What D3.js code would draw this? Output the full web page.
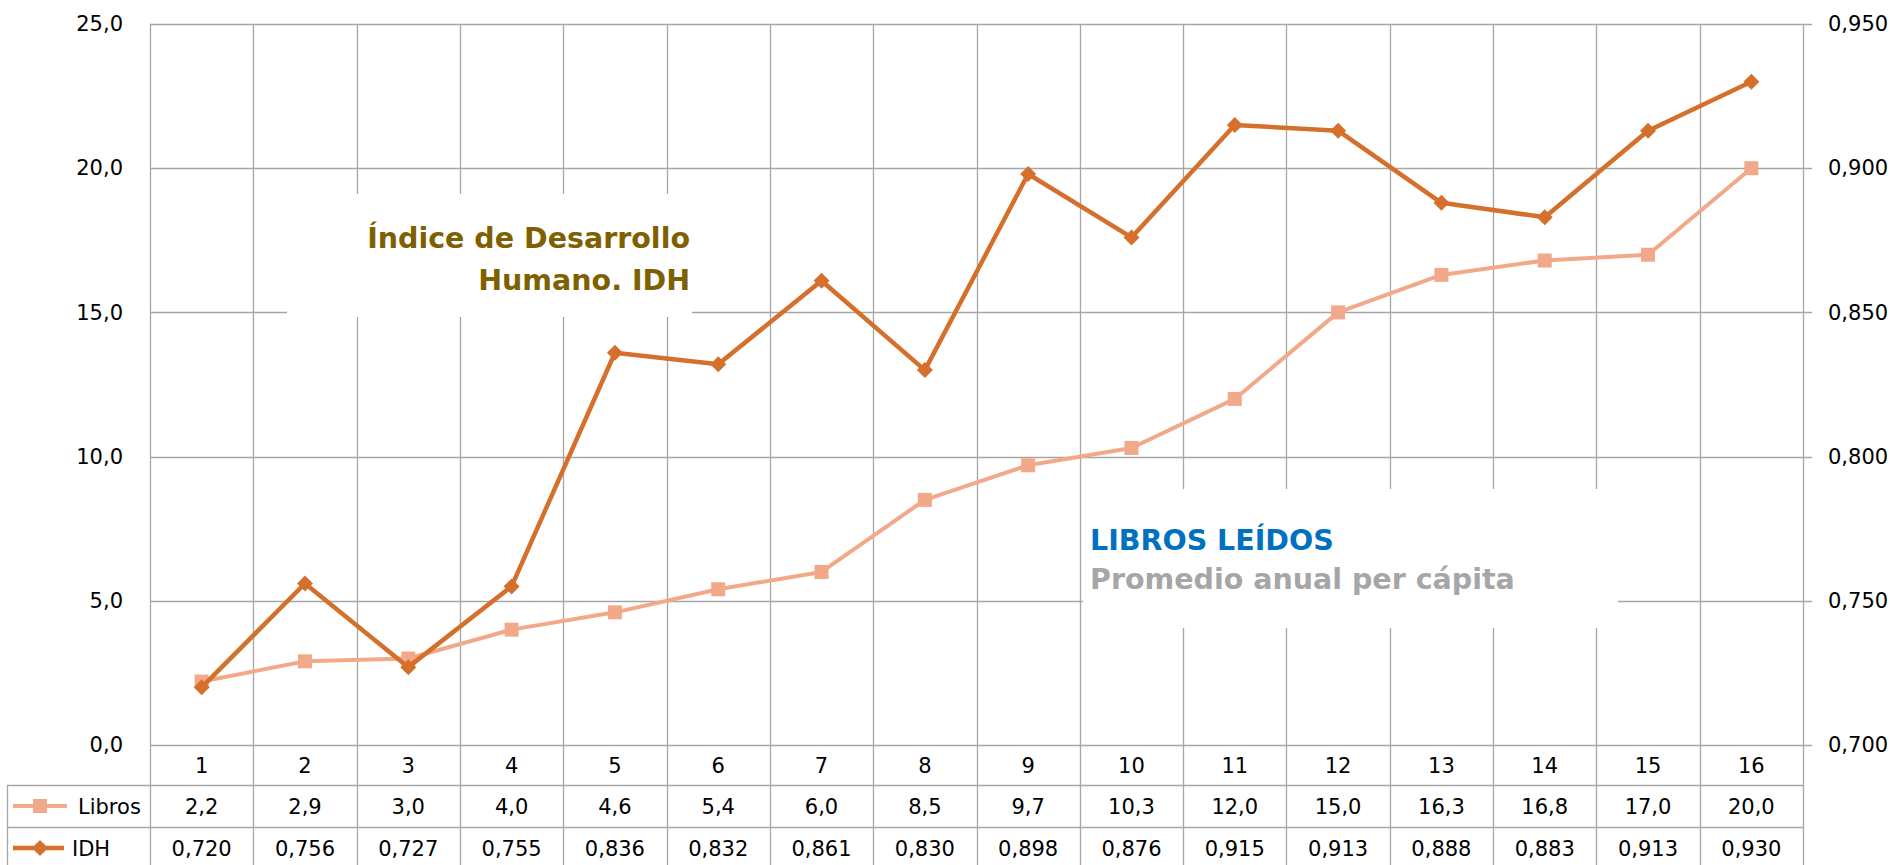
<!DOCTYPE html>
<html>
<head>
<meta charset="utf-8">
<script src="https://cdn.jsdelivr.net/npm/d3@7"></script>
<style>
  html, body { margin: 0; padding: 0; background: #fff; }
  svg { display: block; }
</style>
</head>
<body>
<svg id="chart" width="1894" height="865"></svg>
<script>
// ---------- DATA ----------
const categories = ["1","2","3","4","5","6","7","8","9","10","11","12","13","14","15","16"];
const libros = [2.2, 2.9, 3.0, 4.0, 4.6, 5.4, 6.0, 8.5, 9.7, 10.3, 12.0, 15.0, 16.3, 16.8, 17.0, 20.0];
const idh = [0.720, 0.756, 0.727, 0.755, 0.836, 0.832, 0.861, 0.830, 0.898, 0.876, 0.915, 0.913, 0.888, 0.883, 0.913, 0.930];
const leftTicks = [0, 5, 10, 15, 20, 25];
const rightTicks = [0.70, 0.75, 0.80, 0.85, 0.90, 0.95];
const seriesNames = ["Libros", "IDH"];
const titleIDH = ["Índice de Desarrollo", "Humano. IDH"];
const titleLibros = ["LIBROS LEÍDOS", "Promedio anual per cápita"];

// ---------- LAYOUT ----------
const X0 = 150, X1 = 1803, Y0 = 24, Y1 = 745;
const rowTop = [745, 785, 827, 869];
const tableLeft = 7;
const H = 865;
const colLibros = "#F2A98A", colIDH = "#D4702C", gridCol = "#A6A6A6";
const font = "DejaVu Sans";

const svg = d3.select("#chart");
const fmt1 = v => d3.format(".1f")(v).replace(".", ",");
const fmt3 = v => d3.format(".3f")(v).replace(".", ",");

const x = d3.scaleBand().domain(categories).range([X0, X1]).paddingInner(0).paddingOuter(0);
const cx = c => x(c) + x.bandwidth() / 2;
const yL = d3.scaleLinear().domain([0, 25]).range([Y1, Y0]);
const yR = d3.scaleLinear().domain([0.70, 0.95]).range([Y1, Y0]);

// horizontal gridlines
svg.append("g").selectAll("line").data(leftTicks).join("line")
  .attr("x1", X0).attr("x2", X1 + 9)
  .attr("y1", d => Math.round(yL(d)) + 0.5).attr("y2", d => Math.round(yL(d)) + 0.5)
  .attr("stroke", gridCol).attr("stroke-width", 1.3);

// vertical gridlines (column boundaries, through table)
const bounds = categories.map(c => x(c)).concat([X1]);
svg.append("g").selectAll("line").data(bounds).join("line")
  .attr("x1", d => Math.round(d) + 0.5).attr("x2", d => Math.round(d) + 0.5)
  .attr("y1", Y0).attr("y2", H)
  .attr("stroke", gridCol).attr("stroke-width", 1.3);

// table horizontal lines
svg.append("g").selectAll("line").data([rowTop[1], rowTop[2]]).join("line")
  .attr("x1", tableLeft).attr("x2", X1)
  .attr("y1", d => d + 0.5).attr("y2", d => d + 0.5)
  .attr("stroke", gridCol).attr("stroke-width", 1.3);
svg.append("line").attr("x1", tableLeft + 0.5).attr("x2", tableLeft + 0.5)
  .attr("y1", rowTop[1]).attr("y2", H)
  .attr("stroke", gridCol).attr("stroke-width", 1.3);

// left axis labels
const axL = svg.append("g").attr("transform", `translate(${X0},0)`)
  .call(d3.axisLeft(yL).tickValues(leftTicks).tickSize(0).tickPadding(27).tickFormat(fmt1));
axL.select(".domain").remove();
axL.selectAll("text").attr("font-family", font).attr("font-size", 21).attr("fill", "#000");

// right axis labels
const axR = svg.append("g").attr("transform", `translate(${X1},0)`)
  .call(d3.axisRight(yR).tickValues(rightTicks).tickSize(0).tickPadding(25).tickFormat(fmt3));
axR.select(".domain").remove();
axR.selectAll("text").attr("font-family", font).attr("font-size", 21).attr("fill", "#000");

// white annotation boxes
svg.append("rect").attr("x", 287).attr("y", 194).attr("width", 405).attr("height", 123).attr("fill", "#fff");
svg.append("rect").attr("x", 1083).attr("y", 489).attr("width", 535).attr("height", 139).attr("fill", "#fff");

// annotation texts
const tIDH = svg.append("text").attr("font-family", font).attr("font-weight", "bold")
  .attr("font-size", 28.5).attr("fill", "#7F6000").attr("text-anchor", "end");
tIDH.selectAll("tspan").data(titleIDH).join("tspan")
  .attr("x", 690).attr("y", (d, i) => 248 + i * 42).text(d => d);

const tLib = svg.append("text").attr("font-family", font).attr("font-weight", "bold")
  .attr("font-size", 28.5).attr("text-anchor", "start");
tLib.selectAll("tspan").data(titleLibros).join("tspan")
  .attr("x", 1090).attr("y", (d, i) => 550 + i * 39)
  .attr("fill", (d, i) => i === 0 ? "#0070C0" : "#A6A6A6").text(d => d);

// lines
const diamond = s => `M0,${-s}L${s},0L0,${s}L${-s},0Z`;
const lineL = d3.line().x((d, i) => cx(categories[i])).y(d => yL(d));
const lineR = d3.line().x((d, i) => cx(categories[i])).y(d => yR(d));

svg.append("path").datum(libros).attr("d", lineL).attr("fill", "none")
  .attr("stroke", colLibros).attr("stroke-width", 4).attr("stroke-linejoin", "round");
svg.append("g").selectAll("rect").data(libros).join("rect")
  .attr("x", (d, i) => cx(categories[i]) - 7).attr("y", d => yL(d) - 7)
  .attr("width", 14).attr("height", 14).attr("fill", colLibros);

svg.append("path").datum(idh).attr("d", lineR).attr("fill", "none")
  .attr("stroke", colIDH).attr("stroke-width", 4.5).attr("stroke-linejoin", "round");
svg.append("g").selectAll("path").data(idh).join("path")
  .attr("transform", (d, i) => `translate(${cx(categories[i])},${yR(d)})`)
  .attr("d", diamond(8)).attr("fill", colIDH);

// data table
const rowC = i => (rowTop[i] + rowTop[i + 1]) / 2;
const tableText = (vals, row, f) => svg.append("g").selectAll("text").data(vals).join("text")
  .attr("x", (d, i) => cx(categories[i])).attr("y", rowC(row))
  .attr("dy", "0.36em").attr("text-anchor", "middle")
  .attr("font-family", font).attr("font-size", 21).attr("fill", "#000").text(f);
tableText(categories, 0, d => d);
tableText(libros, 1, fmt1);
tableText(idh, 2, fmt3);

// legend keys
svg.append("line").attr("x1", 13).attr("x2", 67).attr("y1", rowC(1)).attr("y2", rowC(1))
  .attr("stroke", colLibros).attr("stroke-width", 4);
svg.append("rect").attr("x", 33).attr("y", rowC(1) - 7).attr("width", 14).attr("height", 14).attr("fill", colLibros);
svg.append("text").attr("x", 78).attr("y", rowC(1)).attr("dy", "0.36em")
  .attr("font-family", font).attr("font-size", 21).text(seriesNames[0]);

svg.append("line").attr("x1", 13).attr("x2", 64).attr("y1", rowC(2)).attr("y2", rowC(2))
  .attr("stroke", colIDH).attr("stroke-width", 4.5);
svg.append("path").attr("transform", `translate(40,${rowC(2)})`).attr("d", diamond(8)).attr("fill", colIDH);
svg.append("text").attr("x", 72).attr("y", rowC(2)).attr("dy", "0.36em")
  .attr("font-family", font).attr("font-size", 21).text(seriesNames[1]);
</script>
</body>
</html>
